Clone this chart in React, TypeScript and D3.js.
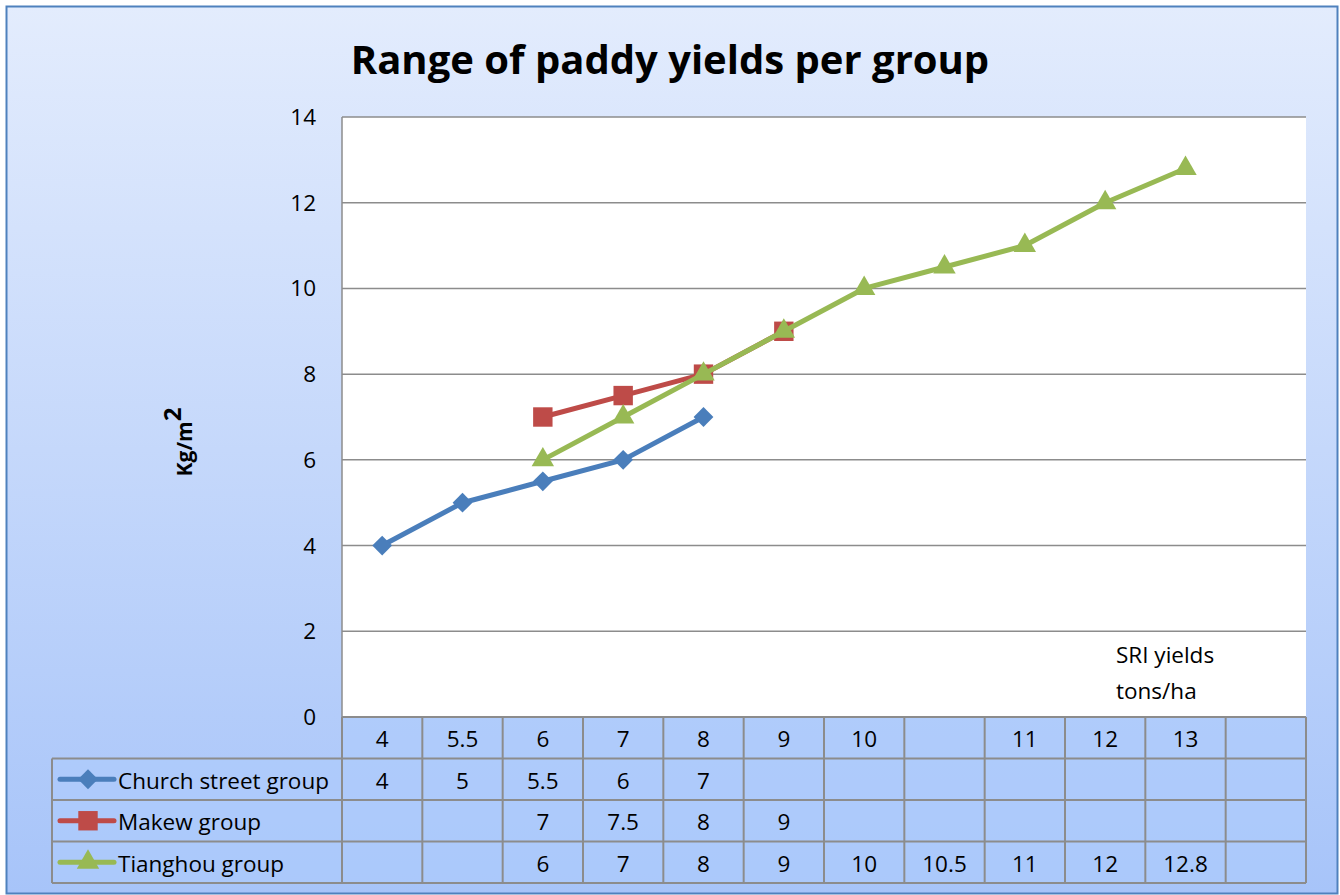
import React from "react";
import * as d3 from "d3";

const categories = ["4", "5.5", "6", "7", "8", "9", "10", "", "11", "12", "13", ""];
const churchStreet: (number | null)[] = [4, 5, 5.5, 6, 7, null, null, null, null, null, null, null];
const makew: (number | null)[] = [null, null, 7, 7.5, 8, 9, null, null, null, null, null, null];
const tianghou: (number | null)[] = [null, null, 6, 7, 8, 9, 10, 10.5, 11, 12, 12.8, null];
const yTicks = [0, 2, 4, 6, 8, 10, 12, 14];

const series = [
  { name: "Church street group", values: churchStreet, color: "#4a7ebb", marker: "diamond" },
  { name: "Makew group", values: makew, color: "#be4b48", marker: "square" },
  { name: "Tianghou group", values: tianghou, color: "#98b954", marker: "triangle" },
];

const W = 1340, H = 895;
const plot = { left: 342, right: 1306, top: 117, bottom: 717 };
const rowH = 41.5;
const tableLeft = 52;
const FONT = "'Open Sans', Lato, sans-serif";
const FS = 22.5;

function markerPath(kind: string, size: number) {
  const sym = kind === "diamond" ? d3.symbolDiamond2 : kind === "square" ? d3.symbolSquare2 : d3.symbolTriangle2;
  return d3.symbol().type(sym).size(size)()!;
}

export default function App() {
  const x = d3.scaleBand<number>().domain(categories.map((_, i) => i)).range([plot.left, plot.right]);
  const y = d3.scaleLinear().domain([0, 14]).range([plot.bottom, plot.top]);
  const cx = (i: number) => x(i)! + x.bandwidth() / 2;
  const line = d3
    .line<number | null>()
    .defined((d) => d !== null)
    .x((_, i) => cx(i))
    .y((d) => y(d as number));

  const tableBottom = plot.bottom + rowH * 4;
  const markerSizes: Record<string, number> = { diamond: 250, square: 480, triangle: 360 };

  return (
    <svg width={W} height={H} style={{ position: "absolute", left: 0, top: 0 }}>
      <defs>
        <linearGradient id="bg" x1="0" y1="0" x2="0" y2="1">
          <stop offset="0" stopColor="#e3ecfd" />
          <stop offset="1" stopColor="#a7c4f9" />
        </linearGradient>
      </defs>
      <rect x={6.5} y={6.5} width={1331} height={887} fill="url(#bg)" stroke="#4f81bd" strokeWidth={2} />
      <text x={670} y={74} textAnchor="middle" fontFamily={FONT} fontWeight="bold" fontSize={40} fill="#000">
        Range of paddy yields per group
      </text>
      {/* plot area */}
      <rect x={plot.left} y={plot.top} width={plot.right - plot.left} height={plot.bottom - plot.top} fill="#fff" />
      {yTicks.map((t) => (
        <g key={t}>
          {t > 0 && (
            <line x1={plot.left} x2={plot.right} y1={y(t)} y2={y(t)} stroke="#8c8c8c" strokeWidth={1.5} />
          )}
          <text x={316} y={y(t) + 8} textAnchor="end" fontFamily={FONT} fontSize={FS} fill="#000">
            {t}
          </text>
        </g>
      ))}
      <line x1={plot.left} x2={plot.left} y1={plot.top} y2={plot.bottom} stroke="#8c8c8c" strokeWidth={1.5} />
      <text
        transform={`translate(192,442) rotate(-90)`}
        textAnchor="middle"
        fontFamily={FONT}
        fontWeight="bold"
        fontSize={21}
        fill="#000"
      >
        Kg/m<tspan dy={-11} fontSize={24}>2</tspan>
      </text>
      <text fontFamily={FONT} fontSize={FS} fill="#000">
        <tspan x={1116} y={663}>SRI yields</tspan>
        <tspan x={1116} y={699}>tons/ha</tspan>
      </text>
      {/* series */}
      {series.map((s) => (
        <g key={s.name}>
          <path d={line(s.values)!} fill="none" stroke={s.color} strokeWidth={5} strokeLinejoin="round" />
          {s.values.map((v, i) =>
            v === null ? null : (
              <path
                key={i}
                d={markerPath(s.marker, markerSizes[s.marker])}
                transform={`translate(${cx(i)},${y(v)})`}
                fill={s.color}
              />
            )
          )}
        </g>
      ))}
      {/* data table */}
      <rect x={plot.left} y={plot.bottom} width={plot.right - plot.left} height={rowH * 4} fill="#aecbfb" opacity={0.6} />
      <rect x={tableLeft} y={plot.bottom + rowH} width={plot.left - tableLeft} height={rowH * 3} fill="#aecbfb" opacity={0.6} />
      {[0, 1, 2, 3, 4].map((r) => (
        <line
          key={r}
          x1={r === 0 ? plot.left : tableLeft}
          x2={plot.right}
          y1={plot.bottom + r * rowH}
          y2={plot.bottom + r * rowH}
          stroke="#8c8c8c"
          strokeWidth={2}
        />
      ))}
      <line x1={tableLeft} x2={tableLeft} y1={plot.bottom + rowH} y2={tableBottom} stroke="#8c8c8c" strokeWidth={2} />
      {categories.map((_, i) => (
        <line key={i} x1={x(i)!} x2={x(i)!} y1={plot.bottom} y2={tableBottom} stroke="#8c8c8c" strokeWidth={2} />
      ))}
      <line x1={plot.right} x2={plot.right} y1={plot.bottom} y2={tableBottom} stroke="#8c8c8c" strokeWidth={2} />
      {categories.map((c, i) => (
        <text key={i} x={cx(i)} y={plot.bottom + 30} textAnchor="middle" fontFamily={FONT} fontSize={FS} fill="#000">
          {c}
        </text>
      ))}
      {series.map((s, r) => {
        const rowY = plot.bottom + rowH * (r + 1);
        const midY = rowY + rowH / 2;
        return (
          <g key={s.name}>
            <line x1={60} x2={114} y1={midY} y2={midY} stroke={s.color} strokeWidth={5} strokeLinecap="round" />
            <path d={markerPath(s.marker, markerSizes[s.marker])} transform={`translate(88,${midY})`} fill={s.color} />
            <text x={118} y={rowY + 30} fontFamily={FONT} fontSize={FS} fill="#000">
              {s.name}
            </text>
            {s.values.map((v, i) =>
              v === null ? null : (
                <text key={i} x={cx(i)} y={rowY + 30} textAnchor="middle" fontFamily={FONT} fontSize={FS} fill="#000">
                  {v}
                </text>
              )
            )}
          </g>
        );
      })}
    </svg>
  );
}
